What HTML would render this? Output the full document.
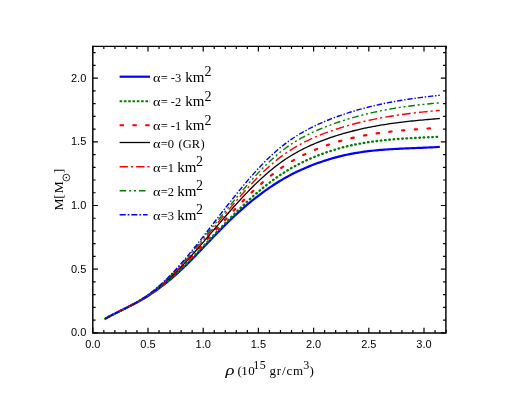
<!DOCTYPE html>
<html><head><meta charset="utf-8"><title>M-rho</title>
<style>
html,body{margin:0;padding:0;background:#fff;}
body{width:518px;height:400px;overflow:hidden;position:relative;font-family:"Liberation Sans",sans-serif;}
</style></head><body>
<svg width="518" height="400" viewBox="0 0 518 400" style="position:absolute;left:0;top:0;will-change:transform">
<g fill="none">
<path d="M105.20 318.74 L107.18 317.62 L109.16 316.54 L111.14 315.48 L113.12 314.44 L115.10 313.43 L117.08 312.44 L119.06 311.45 L121.04 310.48 L123.02 309.51 L125.00 308.54 L126.98 307.56 L128.96 306.58 L130.94 305.59 L132.92 304.57 L134.90 303.54 L136.88 302.49 L138.86 301.40 L140.84 300.29 L142.82 299.14 L144.80 297.95 L146.78 296.73 L148.76 295.47 L150.74 294.18 L152.72 292.86 L154.70 291.50 L156.68 290.11 L158.66 288.68 L160.64 287.21 L162.62 285.71 L164.60 284.18 L166.58 282.60 L168.56 280.99 L170.54 279.34 L172.52 277.66 L174.50 275.93 L176.48 274.17 L178.46 272.37 L180.44 270.54 L182.42 268.67 L184.40 266.77 L186.38 264.84 L188.36 262.89 L190.33 260.91 L192.31 258.91 L194.29 256.90 L196.27 254.86 L198.25 252.81 L200.23 250.75 L202.21 248.68 L204.19 246.61 L206.17 244.53 L208.15 242.46 L210.13 240.39 L212.11 238.32 L214.09 236.26 L216.07 234.21 L218.05 232.17 L220.03 230.15 L222.01 228.14 L223.99 226.15 L225.97 224.18 L227.95 222.23 L229.93 220.31 L231.91 218.41 L233.89 216.54 L235.87 214.69 L237.85 212.88 L239.83 211.09 L241.81 209.33 L243.79 207.59 L245.77 205.89 L247.75 204.21 L249.73 202.57 L251.71 200.95 L253.69 199.36 L255.67 197.80 L257.65 196.27 L259.63 194.76 L261.61 193.29 L263.59 191.84 L265.57 190.42 L267.55 189.03 L269.53 187.67 L271.51 186.33 L273.49 185.03 L275.47 183.75 L277.45 182.49 L279.43 181.27 L281.41 180.08 L283.39 178.92 L285.37 177.79 L287.35 176.69 L289.33 175.62 L291.31 174.57 L293.29 173.56 L295.27 172.57 L297.25 171.61 L299.23 170.68 L301.21 169.77 L303.19 168.88 L305.17 168.02 L307.15 167.19 L309.13 166.37 L311.11 165.58 L313.09 164.81 L315.07 164.06 L317.05 163.33 L319.03 162.62 L321.01 161.92 L322.99 161.25 L324.97 160.59 L326.95 159.96 L328.93 159.34 L330.91 158.75 L332.89 158.17 L334.87 157.61 L336.85 157.08 L338.83 156.57 L340.81 156.07 L342.79 155.60 L344.77 155.15 L346.75 154.73 L348.73 154.32 L350.71 153.93 L352.69 153.55 L354.67 153.20 L356.64 152.86 L358.62 152.54 L360.60 152.24 L362.58 151.95 L364.56 151.68 L366.54 151.42 L368.52 151.18 L370.50 150.95 L372.48 150.73 L374.46 150.52 L376.44 150.33 L378.42 150.15 L380.40 149.97 L382.38 149.81 L384.36 149.66 L386.34 149.51 L388.32 149.38 L390.30 149.25 L392.28 149.12 L394.26 149.01 L396.24 148.90 L398.22 148.80 L400.20 148.70 L402.18 148.60 L404.16 148.51 L406.14 148.43 L408.12 148.34 L410.10 148.26 L412.08 148.18 L414.06 148.10 L416.04 148.02 L418.02 147.94 L420.00 147.86 L421.98 147.78 L423.96 147.69 L425.94 147.61 L427.92 147.52 L429.90 147.42 L431.88 147.33 L433.86 147.23 L435.84 147.12 L437.82 147.01 L439.80 146.89" stroke="#0000ff" stroke-width="2.2"/>
<path d="M105.20 318.74 L107.18 317.62 L109.16 316.54 L111.14 315.48 L113.12 314.45 L115.10 313.44 L117.08 312.45 L119.06 311.46 L121.04 310.49 L123.02 309.52 L125.00 308.54 L126.98 307.56 L128.96 306.57 L130.94 305.57 L132.92 304.55 L134.90 303.50 L136.88 302.43 L138.86 301.33 L140.84 300.19 L142.82 299.01 L144.80 297.80 L146.78 296.55 L148.76 295.26 L150.74 293.93 L152.72 292.56 L154.70 291.16 L156.68 289.72 L158.66 288.24 L160.64 286.72 L162.62 285.17 L164.60 283.57 L166.58 281.94 L168.56 280.28 L170.54 278.57 L172.52 276.83 L174.50 275.05 L176.48 273.24 L178.46 271.39 L180.44 269.50 L182.42 267.59 L184.40 265.65 L186.38 263.69 L188.36 261.70 L190.33 259.69 L192.31 257.67 L194.29 255.62 L196.27 253.57 L198.25 251.50 L200.23 249.43 L202.21 247.35 L204.19 245.26 L206.17 243.17 L208.15 241.07 L210.13 238.98 L212.11 236.89 L214.09 234.80 L216.07 232.72 L218.05 230.65 L220.03 228.58 L222.01 226.52 L223.99 224.47 L225.97 222.44 L227.95 220.41 L229.93 218.40 L231.91 216.40 L233.89 214.42 L235.87 212.46 L237.85 210.52 L239.83 208.59 L241.81 206.69 L243.79 204.80 L245.77 202.94 L247.75 201.11 L249.73 199.30 L251.71 197.51 L253.69 195.75 L255.67 194.02 L257.65 192.32 L259.63 190.64 L261.61 188.99 L263.59 187.37 L265.57 185.78 L267.55 184.22 L269.53 182.69 L271.51 181.20 L273.49 179.74 L275.47 178.31 L277.45 176.91 L279.43 175.55 L281.41 174.23 L283.39 172.94 L285.37 171.69 L287.35 170.47 L289.33 169.29 L291.31 168.14 L293.29 167.03 L295.27 165.95 L297.25 164.89 L299.23 163.87 L301.21 162.88 L303.19 161.91 L305.17 160.97 L307.15 160.06 L309.13 159.17 L311.11 158.31 L313.09 157.47 L315.07 156.65 L317.05 155.86 L319.03 155.09 L321.01 154.33 L322.99 153.60 L324.97 152.89 L326.95 152.19 L328.93 151.52 L330.91 150.87 L332.89 150.24 L334.87 149.63 L336.85 149.03 L338.83 148.46 L340.81 147.91 L342.79 147.39 L344.77 146.88 L346.75 146.39 L348.73 145.92 L350.71 145.47 L352.69 145.03 L354.67 144.62 L356.64 144.22 L358.62 143.84 L360.60 143.48 L362.58 143.13 L364.56 142.79 L366.54 142.47 L368.52 142.17 L370.50 141.88 L372.48 141.60 L374.46 141.34 L376.44 141.08 L378.42 140.84 L380.40 140.61 L382.38 140.40 L384.36 140.19 L386.34 139.99 L388.32 139.80 L390.30 139.62 L392.28 139.45 L394.26 139.29 L396.24 139.13 L398.22 138.99 L400.20 138.84 L402.18 138.71 L404.16 138.58 L406.14 138.46 L408.12 138.34 L410.10 138.22 L412.08 138.11 L414.06 138.00 L416.04 137.90 L418.02 137.80 L420.00 137.70 L421.98 137.60 L423.96 137.50 L425.94 137.40 L427.92 137.31 L429.90 137.21 L431.88 137.11 L433.86 137.01 L435.84 136.91 L437.82 136.81 L439.80 136.70" stroke="#008000" stroke-width="2.35" stroke-linecap="round" stroke-dasharray="0.6 3.7"/>
<path d="M105.20 318.73 L107.18 317.62 L109.16 316.54 L111.14 315.49 L113.12 314.46 L115.10 313.46 L117.08 312.46 L119.06 311.48 L121.04 310.50 L123.02 309.52 L125.00 308.54 L126.98 307.56 L128.96 306.56 L130.94 305.55 L132.92 304.51 L134.90 303.45 L136.88 302.36 L138.86 301.24 L140.84 300.08 L142.82 298.89 L144.80 297.65 L146.78 296.37 L148.76 295.05 L150.74 293.69 L152.72 292.29 L154.70 290.85 L156.68 289.36 L158.66 287.84 L160.64 286.28 L162.62 284.68 L164.60 283.03 L166.58 281.35 L168.56 279.63 L170.54 277.86 L172.52 276.06 L174.50 274.22 L176.48 272.33 L178.46 270.41 L180.44 268.45 L182.42 266.46 L184.40 264.44 L186.38 262.39 L188.36 260.31 L190.33 258.22 L192.31 256.09 L194.29 253.96 L196.27 251.80 L198.25 249.63 L200.23 247.45 L202.21 245.25 L204.19 243.05 L206.17 240.85 L208.15 238.64 L210.13 236.43 L212.11 234.22 L214.09 232.01 L216.07 229.80 L218.05 227.60 L220.03 225.41 L222.01 223.23 L223.99 221.05 L225.97 218.89 L227.95 216.74 L229.93 214.60 L231.91 212.47 L233.89 210.37 L235.87 208.28 L237.85 206.21 L239.83 204.16 L241.81 202.13 L243.79 200.12 L245.77 198.15 L247.75 196.19 L249.73 194.26 L251.71 192.36 L253.69 190.49 L255.67 188.65 L257.65 186.84 L259.63 185.06 L261.61 183.31 L263.59 181.60 L265.57 179.92 L267.55 178.27 L269.53 176.66 L271.51 175.08 L273.49 173.55 L275.47 172.05 L277.45 170.59 L279.43 169.17 L281.41 167.79 L283.39 166.45 L285.37 165.16 L287.35 163.90 L289.33 162.68 L291.31 161.49 L293.29 160.35 L295.27 159.23 L297.25 158.16 L299.23 157.11 L301.21 156.09 L303.19 155.11 L305.17 154.15 L307.15 153.23 L309.13 152.33 L311.11 151.45 L313.09 150.60 L315.07 149.78 L317.05 148.97 L319.03 148.19 L321.01 147.43 L322.99 146.69 L324.97 145.97 L326.95 145.26 L328.93 144.58 L330.91 143.92 L332.89 143.27 L334.87 142.65 L336.85 142.04 L338.83 141.46 L340.81 140.89 L342.79 140.34 L344.77 139.81 L346.75 139.30 L348.73 138.80 L350.71 138.32 L352.69 137.86 L354.67 137.41 L356.64 136.98 L358.62 136.57 L360.60 136.17 L362.58 135.78 L364.56 135.41 L366.54 135.05 L368.52 134.71 L370.50 134.37 L372.48 134.06 L374.46 133.75 L376.44 133.45 L378.42 133.17 L380.40 132.89 L382.38 132.63 L384.36 132.37 L386.34 132.13 L388.32 131.89 L390.30 131.67 L392.28 131.45 L394.26 131.24 L396.24 131.04 L398.22 130.84 L400.20 130.65 L402.18 130.47 L404.16 130.29 L406.14 130.12 L408.12 129.96 L410.10 129.80 L412.08 129.64 L414.06 129.49 L416.04 129.34 L418.02 129.20 L420.00 129.06 L421.98 128.92 L423.96 128.78 L425.94 128.64 L427.92 128.51 L429.90 128.37 L431.88 128.24 L433.86 128.11 L435.84 127.97 L437.82 127.84 L439.80 127.70" stroke="#ff0000" stroke-width="2.2" stroke-linecap="round" stroke-dasharray="2.4 10.4" stroke-dashoffset="9.64"/>
<path d="M105.20 318.71 L107.18 317.62 L109.16 316.55 L111.14 315.51 L113.12 314.49 L115.10 313.48 L117.08 312.49 L119.06 311.50 L121.04 310.52 L123.02 309.54 L125.00 308.55 L126.98 307.55 L128.96 306.54 L130.94 305.51 L132.92 304.46 L134.90 303.38 L136.88 302.27 L138.86 301.13 L140.84 299.95 L142.82 298.73 L144.80 297.46 L146.78 296.15 L148.76 294.80 L150.74 293.41 L152.72 291.98 L154.70 290.50 L156.68 288.99 L158.66 287.43 L160.64 285.82 L162.62 284.18 L164.60 282.49 L166.58 280.77 L168.56 279.00 L170.54 277.18 L172.52 275.33 L174.50 273.43 L176.48 271.49 L178.46 269.50 L180.44 267.48 L182.42 265.43 L184.40 263.34 L186.38 261.22 L188.36 259.07 L190.33 256.89 L192.31 254.69 L194.29 252.46 L196.27 250.22 L198.25 247.96 L200.23 245.68 L202.21 243.39 L204.19 241.10 L206.17 238.79 L208.15 236.48 L210.13 234.16 L212.11 231.85 L214.09 229.53 L216.07 227.22 L218.05 224.91 L220.03 222.61 L222.01 220.31 L223.99 218.03 L225.97 215.75 L227.95 213.48 L229.93 211.23 L231.91 209.00 L233.89 206.78 L235.87 204.57 L237.85 202.39 L239.83 200.23 L241.81 198.09 L243.79 195.98 L245.77 193.89 L247.75 191.83 L249.73 189.80 L251.71 187.79 L253.69 185.82 L255.67 183.88 L257.65 181.98 L259.63 180.10 L261.61 178.26 L263.59 176.46 L265.57 174.69 L267.55 172.97 L269.53 171.28 L271.51 169.63 L273.49 168.02 L275.47 166.46 L277.45 164.93 L279.43 163.46 L281.41 162.02 L283.39 160.64 L285.37 159.29 L287.35 157.99 L289.33 156.73 L291.31 155.51 L293.29 154.33 L295.27 153.19 L297.25 152.08 L299.23 151.00 L301.21 149.96 L303.19 148.95 L305.17 147.97 L307.15 147.02 L309.13 146.10 L311.11 145.21 L313.09 144.34 L315.07 143.49 L317.05 142.67 L319.03 141.87 L321.01 141.08 L322.99 140.32 L324.97 139.58 L326.95 138.85 L328.93 138.15 L330.91 137.46 L332.89 136.79 L334.87 136.14 L336.85 135.50 L338.83 134.88 L340.81 134.28 L342.79 133.69 L344.77 133.12 L346.75 132.57 L348.73 132.03 L350.71 131.51 L352.69 131.00 L354.67 130.50 L356.64 130.02 L358.62 129.55 L360.60 129.10 L362.58 128.66 L364.56 128.23 L366.54 127.81 L368.52 127.41 L370.50 127.02 L372.48 126.64 L374.46 126.27 L376.44 125.91 L378.42 125.56 L380.40 125.22 L382.38 124.90 L384.36 124.58 L386.34 124.27 L388.32 123.97 L390.30 123.68 L392.28 123.40 L394.26 123.13 L396.24 122.86 L398.22 122.61 L400.20 122.36 L402.18 122.11 L404.16 121.88 L406.14 121.65 L408.12 121.43 L410.10 121.21 L412.08 121.00 L414.06 120.80 L416.04 120.60 L418.02 120.40 L420.00 120.21 L421.98 120.03 L423.96 119.84 L425.94 119.67 L427.92 119.49 L429.90 119.32 L431.88 119.15 L433.86 118.99 L435.84 118.82 L437.82 118.66 L439.80 118.50" stroke="#000000" stroke-width="1.3"/>
<path d="M105.20 318.71 L107.18 317.62 L109.16 316.55 L111.14 315.51 L113.12 314.49 L115.10 313.48 L117.08 312.49 L119.06 311.51 L121.04 310.52 L123.02 309.54 L125.00 308.55 L126.98 307.55 L128.96 306.54 L130.94 305.50 L132.92 304.44 L134.90 303.35 L136.88 302.23 L138.86 301.08 L140.84 299.87 L142.82 298.63 L144.80 297.34 L146.78 296.00 L148.76 294.62 L150.74 293.19 L152.72 291.72 L154.70 290.20 L156.68 288.63 L158.66 287.02 L160.64 285.36 L162.62 283.66 L164.60 281.91 L166.58 280.12 L168.56 278.28 L170.54 276.40 L172.52 274.48 L174.50 272.51 L176.48 270.50 L178.46 268.45 L180.44 266.36 L182.42 264.23 L184.40 262.07 L186.38 259.88 L188.36 257.67 L190.33 255.42 L192.31 253.16 L194.29 250.87 L196.27 248.56 L198.25 246.24 L200.23 243.90 L202.21 241.55 L204.19 239.19 L206.17 236.82 L208.15 234.45 L210.13 232.07 L212.11 229.68 L214.09 227.30 L216.07 224.92 L218.05 222.54 L220.03 220.16 L222.01 217.78 L223.99 215.41 L225.97 213.05 L227.95 210.69 L229.93 208.35 L231.91 206.01 L233.89 203.69 L235.87 201.38 L237.85 199.09 L239.83 196.81 L241.81 194.56 L243.79 192.33 L245.77 190.12 L247.75 187.94 L249.73 185.78 L251.71 183.66 L253.69 181.57 L255.67 179.51 L257.65 177.48 L259.63 175.49 L261.61 173.53 L263.59 171.62 L265.57 169.74 L267.55 167.91 L269.53 166.12 L271.51 164.37 L273.49 162.67 L275.47 161.01 L277.45 159.41 L279.43 157.85 L281.41 156.35 L283.39 154.89 L285.37 153.49 L287.35 152.13 L289.33 150.81 L291.31 149.54 L293.29 148.31 L295.27 147.13 L297.25 145.98 L299.23 144.87 L301.21 143.79 L303.19 142.75 L305.17 141.74 L307.15 140.77 L309.13 139.82 L311.11 138.90 L313.09 138.01 L315.07 137.15 L317.05 136.30 L319.03 135.49 L321.01 134.69 L322.99 133.91 L324.97 133.15 L326.95 132.41 L328.93 131.69 L330.91 130.98 L332.89 130.30 L334.87 129.63 L336.85 128.97 L338.83 128.33 L340.81 127.71 L342.79 127.10 L344.77 126.51 L346.75 125.92 L348.73 125.36 L350.71 124.81 L352.69 124.27 L354.67 123.74 L356.64 123.23 L358.62 122.73 L360.60 122.24 L362.58 121.76 L364.56 121.30 L366.54 120.85 L368.52 120.41 L370.50 119.98 L372.48 119.56 L374.46 119.15 L376.44 118.76 L378.42 118.37 L380.40 118.00 L382.38 117.63 L384.36 117.27 L386.34 116.93 L388.32 116.59 L390.30 116.26 L392.28 115.94 L394.26 115.63 L396.24 115.33 L398.22 115.04 L400.20 114.75 L402.18 114.47 L404.16 114.20 L406.14 113.94 L408.12 113.69 L410.10 113.44 L412.08 113.20 L414.06 112.96 L416.04 112.73 L418.02 112.51 L420.00 112.29 L421.98 112.08 L423.96 111.88 L425.94 111.68 L427.92 111.48 L429.90 111.29 L431.88 111.11 L433.86 110.92 L435.84 110.75 L437.82 110.57 L439.80 110.40" stroke="#ff0000" stroke-width="1.4" stroke-dasharray="8.7 3.1 2.1 3.1" stroke-dashoffset="3.09"/>
<path d="M105.20 318.72 L107.18 317.61 L109.16 316.54 L111.14 315.50 L113.12 314.48 L115.10 313.48 L117.08 312.49 L119.06 311.50 L121.04 310.52 L123.02 309.54 L125.00 308.55 L126.98 307.56 L128.96 306.54 L130.94 305.50 L132.92 304.44 L134.90 303.35 L136.88 302.22 L138.86 301.05 L140.84 299.83 L142.82 298.57 L144.80 297.25 L146.78 295.89 L148.76 294.48 L150.74 293.01 L152.72 291.49 L154.70 289.93 L156.68 288.31 L158.66 286.64 L160.64 284.93 L162.62 283.16 L164.60 281.35 L166.58 279.49 L168.56 277.59 L170.54 275.64 L172.52 273.64 L174.50 271.60 L176.48 269.51 L178.46 267.39 L180.44 265.23 L182.42 263.03 L184.40 260.79 L186.38 258.53 L188.36 256.25 L190.33 253.94 L192.31 251.61 L194.29 249.26 L196.27 246.89 L198.25 244.51 L200.23 242.11 L202.21 239.71 L204.19 237.29 L206.17 234.87 L208.15 232.44 L210.13 230.00 L212.11 227.56 L214.09 225.12 L216.07 222.68 L218.05 220.24 L220.03 217.80 L222.01 215.36 L223.99 212.92 L225.97 210.49 L227.95 208.07 L229.93 205.64 L231.91 203.23 L233.89 200.82 L235.87 198.43 L237.85 196.05 L239.83 193.68 L241.81 191.34 L243.79 189.01 L245.77 186.71 L247.75 184.43 L249.73 182.18 L251.71 179.96 L253.69 177.77 L255.67 175.61 L257.65 173.48 L259.63 171.39 L261.61 169.34 L263.59 167.33 L265.57 165.36 L267.55 163.43 L269.53 161.55 L271.51 159.72 L273.49 157.93 L275.47 156.20 L277.45 154.51 L279.43 152.88 L281.41 151.31 L283.39 149.78 L285.37 148.31 L287.35 146.89 L289.33 145.51 L291.31 144.18 L293.29 142.90 L295.27 141.66 L297.25 140.46 L299.23 139.30 L301.21 138.17 L303.19 137.09 L305.17 136.03 L307.15 135.02 L309.13 134.03 L311.11 133.07 L313.09 132.14 L315.07 131.24 L317.05 130.36 L319.03 129.50 L321.01 128.67 L322.99 127.86 L324.97 127.06 L326.95 126.29 L328.93 125.53 L330.91 124.80 L332.89 124.08 L334.87 123.37 L336.85 122.68 L338.83 122.01 L340.81 121.35 L342.79 120.71 L344.77 120.08 L346.75 119.46 L348.73 118.86 L350.71 118.27 L352.69 117.69 L354.67 117.13 L356.64 116.58 L358.62 116.04 L360.60 115.52 L362.58 115.01 L364.56 114.51 L366.54 114.02 L368.52 113.54 L370.50 113.08 L372.48 112.62 L374.46 112.18 L376.44 111.75 L378.42 111.33 L380.40 110.92 L382.38 110.52 L384.36 110.13 L386.34 109.76 L388.32 109.39 L390.30 109.03 L392.28 108.68 L394.26 108.34 L396.24 108.02 L398.22 107.70 L400.20 107.39 L402.18 107.09 L404.16 106.80 L406.14 106.51 L408.12 106.24 L410.10 105.97 L412.08 105.72 L414.06 105.47 L416.04 105.23 L418.02 104.99 L420.00 104.77 L421.98 104.55 L423.96 104.34 L425.94 104.14 L427.92 103.94 L429.90 103.75 L431.88 103.57 L433.86 103.39 L435.84 103.22 L437.82 103.06 L439.80 102.90" stroke="#008000" stroke-width="1.4" stroke-dasharray="6.7 2.8 2 2.8 2 2.8" stroke-dashoffset="0.35"/>
<path d="M105.20 318.70 L107.18 317.61 L109.16 316.55 L111.14 315.52 L113.12 314.50 L115.10 313.50 L117.08 312.51 L119.06 311.53 L121.04 310.54 L123.02 309.55 L125.00 308.56 L126.98 307.55 L128.96 306.52 L130.94 305.47 L132.92 304.39 L134.90 303.28 L136.88 302.13 L138.86 300.94 L140.84 299.70 L142.82 298.41 L144.80 297.08 L146.78 295.69 L148.76 294.25 L150.74 292.76 L152.72 291.21 L154.70 289.62 L156.68 287.97 L158.66 286.27 L160.64 284.53 L162.62 282.73 L164.60 280.88 L166.58 278.98 L168.56 277.04 L170.54 275.04 L172.52 273.00 L174.50 270.90 L176.48 268.76 L178.46 266.58 L180.44 264.35 L182.42 262.08 L184.40 259.78 L186.38 257.44 L188.36 255.07 L190.33 252.67 L192.31 250.24 L194.29 247.79 L196.27 245.32 L198.25 242.83 L200.23 240.33 L202.21 237.81 L204.19 235.27 L206.17 232.73 L208.15 230.18 L210.13 227.63 L212.11 225.07 L214.09 222.51 L216.07 219.96 L218.05 217.40 L220.03 214.85 L222.01 212.30 L223.99 209.76 L225.97 207.23 L227.95 204.71 L229.93 202.20 L231.91 199.70 L233.89 197.21 L235.87 194.75 L237.85 192.30 L239.83 189.88 L241.81 187.47 L243.79 185.09 L245.77 182.74 L247.75 180.42 L249.73 178.13 L251.71 175.86 L253.69 173.63 L255.67 171.44 L257.65 169.28 L259.63 167.16 L261.61 165.08 L263.59 163.04 L265.57 161.03 L267.55 159.08 L269.53 157.16 L271.51 155.30 L273.49 153.48 L275.47 151.71 L277.45 149.99 L279.43 148.32 L281.41 146.70 L283.39 145.14 L285.37 143.62 L287.35 142.16 L289.33 140.73 L291.31 139.36 L293.29 138.03 L295.27 136.74 L297.25 135.48 L299.23 134.27 L301.21 133.10 L303.19 131.96 L305.17 130.86 L307.15 129.79 L309.13 128.75 L311.11 127.74 L313.09 126.76 L315.07 125.80 L317.05 124.87 L319.03 123.96 L321.01 123.08 L322.99 122.22 L324.97 121.37 L326.95 120.55 L328.93 119.75 L330.91 118.96 L332.89 118.20 L334.87 117.45 L336.85 116.72 L338.83 116.00 L340.81 115.30 L342.79 114.62 L344.77 113.95 L346.75 113.30 L348.73 112.66 L350.71 112.04 L352.69 111.43 L354.67 110.84 L356.64 110.26 L358.62 109.69 L360.60 109.14 L362.58 108.60 L364.56 108.07 L366.54 107.56 L368.52 107.05 L370.50 106.56 L372.48 106.09 L374.46 105.62 L376.44 105.17 L378.42 104.72 L380.40 104.29 L382.38 103.87 L384.36 103.45 L386.34 103.05 L388.32 102.66 L390.30 102.28 L392.28 101.91 L394.26 101.55 L396.24 101.19 L398.22 100.85 L400.20 100.51 L402.18 100.18 L404.16 99.86 L406.14 99.55 L408.12 99.25 L410.10 98.95 L412.08 98.66 L414.06 98.38 L416.04 98.11 L418.02 97.84 L420.00 97.58 L421.98 97.32 L423.96 97.07 L425.94 96.83 L427.92 96.59 L429.90 96.35 L431.88 96.12 L433.86 95.90 L435.84 95.68 L437.82 95.47 L439.80 95.25" stroke="#0000ff" stroke-width="1.4" stroke-dasharray="5.4 1.8 1.4 1.8" stroke-dashoffset="10.22"/>
</g>
<path d="M92.8 45.75 V333.59999999999997 M445.9 45.75 V333.59999999999997 M92.1 332.9 H446.59999999999997" fill="none" stroke="#000" stroke-width="1.45"/>
<path d="M92.1 46.3 H446.59999999999997" fill="none" stroke="#000" stroke-width="1.15"/>
<path d="M92.80 332.9 v-5.1 M92.80 46.3 v5.1 M103.84 332.9 v-2.8 M103.84 46.3 v2.8 M114.88 332.9 v-2.8 M114.88 46.3 v2.8 M125.92 332.9 v-2.8 M125.92 46.3 v2.8 M136.96 332.9 v-2.8 M136.96 46.3 v2.8 M148.00 332.9 v-5.1 M148.00 46.3 v5.1 M159.04 332.9 v-2.8 M159.04 46.3 v2.8 M170.08 332.9 v-2.8 M170.08 46.3 v2.8 M181.12 332.9 v-2.8 M181.12 46.3 v2.8 M192.16 332.9 v-2.8 M192.16 46.3 v2.8 M203.20 332.9 v-5.1 M203.20 46.3 v5.1 M214.24 332.9 v-2.8 M214.24 46.3 v2.8 M225.28 332.9 v-2.8 M225.28 46.3 v2.8 M236.32 332.9 v-2.8 M236.32 46.3 v2.8 M247.36 332.9 v-2.8 M247.36 46.3 v2.8 M258.40 332.9 v-5.1 M258.40 46.3 v5.1 M269.44 332.9 v-2.8 M269.44 46.3 v2.8 M280.48 332.9 v-2.8 M280.48 46.3 v2.8 M291.52 332.9 v-2.8 M291.52 46.3 v2.8 M302.56 332.9 v-2.8 M302.56 46.3 v2.8 M313.60 332.9 v-5.1 M313.60 46.3 v5.1 M324.64 332.9 v-2.8 M324.64 46.3 v2.8 M335.68 332.9 v-2.8 M335.68 46.3 v2.8 M346.72 332.9 v-2.8 M346.72 46.3 v2.8 M357.76 332.9 v-2.8 M357.76 46.3 v2.8 M368.80 332.9 v-5.1 M368.80 46.3 v5.1 M379.84 332.9 v-2.8 M379.84 46.3 v2.8 M390.88 332.9 v-2.8 M390.88 46.3 v2.8 M401.92 332.9 v-2.8 M401.92 46.3 v2.8 M412.96 332.9 v-2.8 M412.96 46.3 v2.8 M424.00 332.9 v-5.1 M424.00 46.3 v5.1 M435.04 332.9 v-2.8 M435.04 46.3 v2.8 M446.08 332.9 v-2.8 M446.08 46.3 v2.8 M92.8 332.90 h5.1 M445.9 332.90 h-5.1 M92.8 320.16 h2.8 M445.9 320.16 h-2.8 M92.8 307.42 h2.8 M445.9 307.42 h-2.8 M92.8 294.68 h2.8 M445.9 294.68 h-2.8 M92.8 281.94 h2.8 M445.9 281.94 h-2.8 M92.8 269.20 h5.1 M445.9 269.20 h-5.1 M92.8 256.46 h2.8 M445.9 256.46 h-2.8 M92.8 243.72 h2.8 M445.9 243.72 h-2.8 M92.8 230.98 h2.8 M445.9 230.98 h-2.8 M92.8 218.24 h2.8 M445.9 218.24 h-2.8 M92.8 205.50 h5.1 M445.9 205.50 h-5.1 M92.8 192.76 h2.8 M445.9 192.76 h-2.8 M92.8 180.02 h2.8 M445.9 180.02 h-2.8 M92.8 167.28 h2.8 M445.9 167.28 h-2.8 M92.8 154.54 h2.8 M445.9 154.54 h-2.8 M92.8 141.80 h5.1 M445.9 141.80 h-5.1 M92.8 129.06 h2.8 M445.9 129.06 h-2.8 M92.8 116.32 h2.8 M445.9 116.32 h-2.8 M92.8 103.58 h2.8 M445.9 103.58 h-2.8 M92.8 90.84 h2.8 M445.9 90.84 h-2.8 M92.8 78.10 h5.1 M445.9 78.10 h-5.1 M92.8 65.36 h2.8 M445.9 65.36 h-2.8 M92.8 52.62 h2.8 M445.9 52.62 h-2.8" stroke="#000" stroke-width="1.2" fill="none"/>
<g font-family="Liberation Sans, sans-serif" font-size="11px" fill="#000">
<text x="92.80" y="348" text-anchor="middle">0.0</text>
<text x="148.00" y="348" text-anchor="middle">0.5</text>
<text x="203.20" y="348" text-anchor="middle">1.0</text>
<text x="258.40" y="348" text-anchor="middle">1.5</text>
<text x="313.60" y="348" text-anchor="middle">2.0</text>
<text x="368.80" y="348" text-anchor="middle">2.5</text>
<text x="424.00" y="348" text-anchor="middle">3.0</text>
<text x="86.3" y="336.30" text-anchor="end">0.0</text>
<text x="86.3" y="272.60" text-anchor="end">0.5</text>
<text x="86.3" y="208.90" text-anchor="end">1.0</text>
<text x="86.3" y="145.20" text-anchor="end">1.5</text>
<text x="86.3" y="81.50" text-anchor="end">2.0</text>
</g>
<path d="M119.6 76.7 H150" fill="none" stroke="#0000ff" stroke-width="2.2"/>
<path d="M119.6 101.2 H150" fill="none" stroke="#008000" stroke-width="2" stroke-dasharray="2.6 1.7"/>
<path d="M119.6 125.3 H150" fill="none" stroke="#ff0000" stroke-width="2" stroke-dasharray="4.4 8.4"/>
<path d="M119.6 142.5 H150" fill="none" stroke="#000000" stroke-width="1.3"/>
<path d="M119.6 166.8 H150" fill="none" stroke="#ff0000" stroke-width="1.4" stroke-dasharray="8.3 3 2 3.2"/>
<path d="M119.6 190.7 H147.6" fill="none" stroke="#008000" stroke-width="1.4" stroke-dasharray="6.6 2.9 2 2.9 2 2.9"/>
<path d="M119.6 214.8 H147.6" fill="none" stroke="#0000ff" stroke-width="1.4" stroke-dasharray="6.1 2 1.7 1.9"/>
<g font-family="Liberation Serif, serif" fill="#000" font-size="12.5px">
<text x="153" y="81.7" textLength="7.5" lengthAdjust="spacingAndGlyphs">α</text>
<text x="160.7" y="81.7" xml:space="preserve">= -3 <tspan font-size="15px" dx="0.9">km</tspan><tspan font-size="14px" dy="-5.7" dx="0.0">2</tspan></text>
<text x="153" y="106.2" textLength="7.5" lengthAdjust="spacingAndGlyphs">α</text>
<text x="160.7" y="106.2" xml:space="preserve">= -2 <tspan font-size="15px" dx="0.9">km</tspan><tspan font-size="14px" dy="-5.7" dx="0.0">2</tspan></text>
<text x="153" y="130.3" textLength="7.5" lengthAdjust="spacingAndGlyphs">α</text>
<text x="160.7" y="130.3" xml:space="preserve">= -1 <tspan font-size="15px" dx="0.9">km</tspan><tspan font-size="14px" dy="-5.7" dx="0.0">2</tspan></text>
<text x="153" y="147.5" textLength="7.5" lengthAdjust="spacingAndGlyphs">α</text>
<text x="160.7" y="147.5" xml:space="preserve">=0 <tspan dx="1.4">(GR</tspan><tspan dx="0.5">)</tspan></text>
<text x="153" y="171.8" textLength="7.5" lengthAdjust="spacingAndGlyphs">α</text>
<text x="160.7" y="171.8" xml:space="preserve">=1 <tspan font-size="15px" dx="0.2">km</tspan><tspan font-size="14px" dy="-5.7" dx="-0.4">2</tspan></text>
<text x="153" y="195.7" textLength="7.5" lengthAdjust="spacingAndGlyphs">α</text>
<text x="160.7" y="195.7" xml:space="preserve">=2 <tspan font-size="15px" dx="0.2">km</tspan><tspan font-size="14px" dy="-5.7" dx="-0.4">2</tspan></text>
<text x="153" y="219.8" textLength="7.5" lengthAdjust="spacingAndGlyphs">α</text>
<text x="160.7" y="219.8" xml:space="preserve">=3 <tspan font-size="15px" dx="0.2">km</tspan><tspan font-size="14px" dy="-5.7" dx="-0.4">2</tspan></text>
</g>
<g font-family="Liberation Serif, serif" font-size="13px" fill="#000"><text x="237.4" y="374.8">(</text><text x="241.3" y="374.8" letter-spacing="0.4">10</text><text x="253.2" y="368.8" font-size="12px" letter-spacing="0.6">15</text><text x="269.5" y="374.8" letter-spacing="0.85">gr/cm</text><text x="303.2" y="368.8" font-size="12px">3</text><text x="309.6" y="374.8">)</text></g>
<text transform="translate(225.5 374.8) scale(1.25 1)" x="0" y="0" font-family="Liberation Serif, serif" font-style="italic" font-size="15px" fill="#000">ρ</text>
<g transform="translate(62.75 210.6) rotate(-90)"><text x="0" y="0" font-family="Liberation Serif, serif" font-size="13.4px" fill="#000">M[<tspan dx="1">M</tspan><tspan dx="8">]</tspan></text><circle cx="33" cy="3.6" r="3.4" fill="none" stroke="#000" stroke-width="0.8"/><circle cx="33" cy="3.6" r="0.8" fill="#000"/></g>
</svg>
</body></html>
